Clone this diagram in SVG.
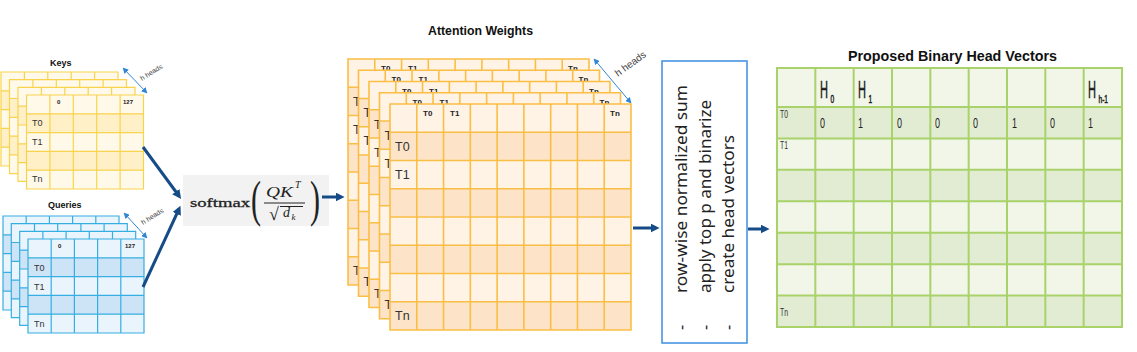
<svg xmlns="http://www.w3.org/2000/svg" xmlns:xlink="http://www.w3.org/1999/xlink" width="1137" height="352" viewBox="0 0 1137 352">
<style>
.kf{fill:#FFF9EA}.kd{fill:#FFF0C8}.ks{fill:none;stroke:#F8D44C;stroke-width:1.2}
.qf{fill:#EAF4FC}.qd{fill:#CDE3F6}.qs{fill:none;stroke:#36AEE2;stroke-width:1.2}
.af{fill:#FFF3E6}.ad{fill:#FDE4C9}.as{fill:none;stroke:#FBBE45;stroke-width:1.6}
.tf{fill:#F1F6E9}.td{fill:#E2ECD2}.ts{fill:none;stroke:#A9D26A;stroke-width:2}
.ttl{font-family:"Liberation Sans",Arial,sans-serif;font-weight:bold;fill:#111}
.hdr{font-family:"Liberation Sans",Arial,sans-serif;font-weight:bold;fill:#222}
.lbl{font-family:"Liberation Sans",Arial,sans-serif;fill:#333}
.hh{font-family:"Liberation Sans",Arial,sans-serif;fill:#444}
.nar{font-family:"Liberation Sans",Arial,sans-serif;fill:#222}
.hv{font-family:"Liberation Sans",Arial,sans-serif;fill:#1a1a1a;stroke:#1a1a1a;stroke-width:0.5}
.conn{fill:none;stroke:#154C87;stroke-width:3}
.thin{fill:none;stroke:#2F86D6;stroke-width:1}
.math{font-family:"Liberation Serif","DejaVu Serif",serif;fill:#222}
.box{font-family:"Noto Sans","Open Sans",sans-serif;font-size:16px;fill:#222}
</style>
<defs>
<marker id="ah" viewBox="0 0 10 10" refX="6" refY="5" markerWidth="3" markerHeight="3" orient="auto" markerUnits="strokeWidth"><path d="M0 0L10 5L0 10z" fill="#154C87"/></marker>
<marker id="sa" viewBox="0 0 10 10" refX="9" refY="5" markerWidth="6" markerHeight="6" orient="auto-start-reverse" markerUnits="strokeWidth"><path d="M0 0L10 5L0 10z" fill="#2F86D6"/></marker>
<g id="keyL">
<rect width="117" height="94" class="kf"/>
<rect y="18.8" width="117" height="18.8" class="kd"/>
<rect y="56.4" width="117" height="18.8" class="kd"/>
<path class="ks" d="M0 0H117V94H0Z M23.4 0V94 M46.8 0V94 M70.2 0V94 M93.6 0V94 M0 18.8H117 M0 37.6H117 M0 56.4H117 M0 75.2H117"/>
</g>
<g id="qryL">
<rect width="116" height="94" class="qf"/>
<rect y="18.8" width="116" height="18.8" class="qd"/>
<rect y="56.4" width="116" height="18.8" class="qd"/>
<path class="qs" d="M0 0H116V94H0Z M23.2 0V94 M46.4 0V94 M69.6 0V94 M92.8 0V94 M0 18.8H116 M0 37.6H116 M0 56.4H116 M0 75.2H116"/>
</g>
<g id="attL">
<rect width="241" height="226" class="af"/>
<rect y="28.25" width="241" height="28.25" class="ad"/>
<rect y="84.75" width="241" height="28.25" class="ad"/>
<rect y="141.25" width="241" height="28.25" class="ad"/>
<rect y="197.75" width="241" height="28.25" class="ad"/>
<path class="as" d="M0 0H241V226H0Z M26.78 0V226 M53.56 0V226 M80.33 0V226 M107.11 0V226 M133.89 0V226 M160.67 0V226 M187.44 0V226 M214.22 0V226 M0 28.25H241 M0 56.5H241 M0 84.75H241 M0 113H241 M0 141.25H241 M0 169.5H241 M0 197.75H241"/>
<text class="hdr" font-size="8" x="33" y="12">T0</text>
<text class="hdr" font-size="8" x="60" y="12">T1</text>
<text class="hdr" font-size="8" x="220" y="12">Tn</text>
<text class="lbl" font-size="12.5" x="5" y="47">T0</text>
<text class="lbl" font-size="12.5" x="5" y="75">T1</text>
<text class="lbl" font-size="12.5" x="5" y="216">Tn</text>
</g>
</defs>

<g id="keys">
<text class="ttl" font-size="9" x="50" y="66">Keys</text>
<use xlink:href="#keyL" x="1" y="72"/>
<use xlink:href="#keyL" x="9.5" y="79.7"/>
<use xlink:href="#keyL" x="18" y="87.4"/>
<use xlink:href="#keyL" x="26.5" y="95"/>
<text class="hdr" font-size="6" x="57" y="104">0</text>
<text class="hdr" font-size="6" x="123" y="104">127</text>
<text class="lbl" font-size="9" x="32" y="126">T0</text>
<text class="lbl" font-size="9" x="32" y="145">T1</text>
<text class="lbl" font-size="9" x="32" y="182">Tn</text>
<line class="thin" x1="123" y1="68" x2="147" y2="93" marker-start="url(#sa)" marker-end="url(#sa)"/>
<text class="hh" font-size="7" transform="translate(142,81) rotate(-32)">h heads</text>
</g>

<g id="queries">
<text class="ttl" font-size="9" x="48" y="208">Queries</text>
<use xlink:href="#qryL" x="3" y="216"/>
<use xlink:href="#qryL" x="11.3" y="223.7"/>
<use xlink:href="#qryL" x="19.7" y="231.4"/>
<use xlink:href="#qryL" x="28" y="239"/>
<text class="hdr" font-size="6" x="58" y="248">0</text>
<text class="hdr" font-size="6" x="125" y="248">127</text>
<text class="lbl" font-size="9" x="34" y="271">T0</text>
<text class="lbl" font-size="9" x="34" y="290">T1</text>
<text class="lbl" font-size="9" x="34" y="327">Tn</text>
<line class="thin" x1="124" y1="213" x2="147" y2="238" marker-start="url(#sa)" marker-end="url(#sa)"/>
<text class="hh" font-size="7" transform="translate(143,225) rotate(-32)">h heads</text>
</g>

<g id="softmax">
<rect x="183" y="175" width="146" height="51" fill="#F2F2F2"/>
<text class="math" font-size="13" x="190" y="207" textLength="60" lengthAdjust="spacingAndGlyphs" stroke="#222" stroke-width="0.3">softmax</text>
<text class="math" font-size="50" x="251" y="216" textLength="10" lengthAdjust="spacingAndGlyphs">(</text>
<text class="math" font-size="14" font-style="italic" x="266" y="197" textLength="27" lengthAdjust="spacingAndGlyphs">QK</text>
<text class="math" font-size="10" font-style="italic" x="295" y="188">T</text>
<line x1="264" y1="203" x2="305" y2="203" stroke="#222" stroke-width="1"/>
<text class="math" font-size="18" x="269" y="220">√</text>
<line x1="280" y1="206.5" x2="303" y2="206.5" stroke="#222" stroke-width="1"/>
<text class="math" font-size="14" font-style="italic" x="283" y="217">d</text>
<text class="math" font-size="9" font-style="italic" x="291.5" y="220">k</text>
<text class="math" font-size="50" x="310" y="216" textLength="10" lengthAdjust="spacingAndGlyphs">)</text>
</g>

<g id="attention">
<text class="ttl" font-size="12.5" x="428" y="35" textLength="105" lengthAdjust="spacingAndGlyphs">Attention Weights</text>
<use xlink:href="#attL" x="348" y="59"/>
<use xlink:href="#attL" x="358.5" y="70.25"/>
<use xlink:href="#attL" x="369" y="81.5"/>
<use xlink:href="#attL" x="379.5" y="92.75"/>
<use xlink:href="#attL" x="390" y="104"/>
<line class="thin" x1="594" y1="59" x2="631" y2="103" marker-start="url(#sa)" marker-end="url(#sa)"/>
<text class="hh" font-size="10" transform="translate(618,77) rotate(-36)">h heads</text>
</g>

<g id="process">
<rect x="662" y="61" width="85" height="282" fill="#FFFFFF" stroke="#3C8FE0" stroke-width="1.5"/>
<g transform="translate(687,293) rotate(-90)"><text class="box" x="0" y="0" textLength="208" lengthAdjust="spacingAndGlyphs">row-wise normalized sum</text><text class="box" x="-37" y="0">-</text></g>
<g transform="translate(711,293) rotate(-90)"><text class="box" x="0" y="0" textLength="193" lengthAdjust="spacingAndGlyphs">apply top p and binarize</text><text class="box" x="-37" y="0">-</text></g>
<g transform="translate(734,293) rotate(-90)"><text class="box" x="0" y="0" textLength="158" lengthAdjust="spacingAndGlyphs">create head vectors</text><text class="box" x="-37" y="0">-</text></g>
</g>

<g id="binary-vectors">
<text class="ttl" font-size="15" x="848" y="61" textLength="209" lengthAdjust="spacingAndGlyphs">Proposed Binary Head Vectors</text>
<rect x="777" y="68" width="345" height="259" class="tf"/>
<rect x="777" y="107" width="345" height="31.43" class="td"/>
<rect x="777" y="169.86" width="345" height="31.43" class="td"/>
<rect x="777" y="232.71" width="345" height="31.43" class="td"/>
<rect x="777" y="295.57" width="345" height="31.43" class="td"/>
<path class="ts" d="M777 68H1122V327H777Z M815.33 68V327 M853.67 68V327 M892 68V327 M930.33 68V327 M968.67 68V327 M1007 68V327 M1045.33 68V327 M1083.67 68V327 M777 107H1122 M777 138.43H1122 M777 169.86H1122 M777 201.29H1122 M777 232.71H1122 M777 264.14H1122 M777 295.57H1122"/>
<text class="hv" font-size="23" transform="translate(820,98) scale(0.48,1)">H</text>
<text class="hv" font-size="11" transform="translate(830.5,103) scale(0.6,1)">0</text>
<text class="hv" font-size="23" transform="translate(858,98) scale(0.48,1)">H</text>
<text class="hv" font-size="11" transform="translate(868.5,103) scale(0.6,1)">1</text>
<text class="hv" font-size="23" transform="translate(1088,98) scale(0.48,1)">H</text>
<text class="hv" font-size="11" transform="translate(1098.5,103) scale(0.6,1)">h-1</text>
<text class="lbl" font-size="11" x="780" y="118" textLength="8" lengthAdjust="spacingAndGlyphs">T0</text>
<text class="lbl" font-size="11" x="780" y="149" textLength="8" lengthAdjust="spacingAndGlyphs">T1</text>
<text class="lbl" font-size="11" x="780" y="316" textLength="8" lengthAdjust="spacingAndGlyphs">Tn</text>
<g class="nar" font-size="15">
<text x="820" y="128" textLength="5" lengthAdjust="spacingAndGlyphs">0</text>
<text x="858" y="128" textLength="5" lengthAdjust="spacingAndGlyphs">1</text>
<text x="897" y="128" textLength="5" lengthAdjust="spacingAndGlyphs">0</text>
<text x="935" y="128" textLength="5" lengthAdjust="spacingAndGlyphs">0</text>
<text x="973" y="128" textLength="5" lengthAdjust="spacingAndGlyphs">0</text>
<text x="1012" y="128" textLength="5" lengthAdjust="spacingAndGlyphs">1</text>
<text x="1050" y="128" textLength="5" lengthAdjust="spacingAndGlyphs">0</text>
<text x="1088" y="128" textLength="5" lengthAdjust="spacingAndGlyphs">1</text>
</g>
</g>

<g id="connectors">
<line class="conn" x1="143" y1="147" x2="179" y2="196" marker-end="url(#ah)"/>
<line class="conn" x1="143" y1="287" x2="179" y2="209" marker-end="url(#ah)"/>
<line class="conn" x1="322" y1="197" x2="341" y2="197" marker-end="url(#ah)"/>
<line class="conn" x1="633" y1="228" x2="656" y2="228" marker-end="url(#ah)"/>
<line class="conn" x1="748" y1="229" x2="766" y2="229" marker-end="url(#ah)"/>
</g>
</svg>
